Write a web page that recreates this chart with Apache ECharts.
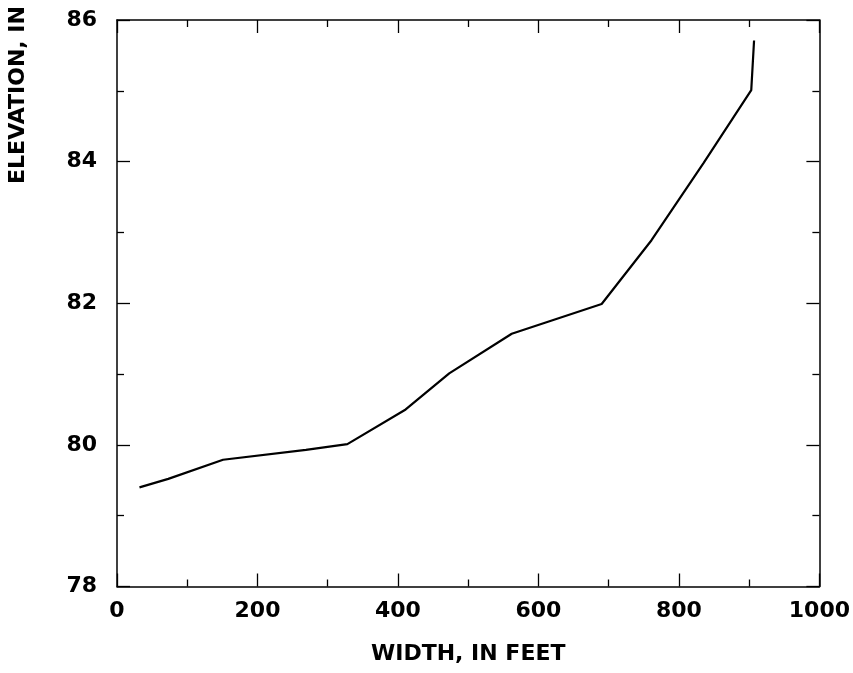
<!DOCTYPE html>
<html>
<head>
<meta charset="utf-8">
<script src="https://cdn.jsdelivr.net/npm/echarts@6/dist/echarts.min.js"></script>
<style>html,body{margin:0;padding:0;background:#fff}#c{width:853px;height:673px}</style>
</head>
<body>
<div id="c"></div>
<script>
const widthFeet = [32, 73, 151, 269, 328, 411, 473, 562, 690, 761, 835, 903, 907];
const elevation = [79.40, 79.52, 79.79, 79.93, 80.01, 80.50, 81.01, 81.57, 81.99, 82.89, 83.98, 85.01, 85.71];
const xTitle = 'WIDTH, IN FEET';
const yTitle = 'ELEVATION, IN';

const font = 'DejaVu Sans';
const chart = echarts.init(document.getElementById('c'), null, {renderer: 'canvas'});
const axisCommon = {
  axisLine: {show: true, onZero: false, lineStyle: {color: '#000', width: 1.5}},
  axisTick: {show: true, inside: true, length: 13, lineStyle: {color: '#000', width: 1.3}},
  minorTick: {show: true, splitNumber: 2, length: 7, lineStyle: {color: '#000', width: 1.3}},
  splitLine: {show: false}
};
chart.setOption({
  animation: false,
  backgroundColor: '#fff',
  grid: {left: 117, right: 31, top: 20, bottom: 86.5, containLabel: false},
  xAxis: [
    Object.assign({
      type: 'value', min: 0, max: 1000, interval: 200, position: 'bottom',
      name: xTitle, nameLocation: 'middle', nameGap: 57,
      nameTextStyle: {fontFamily: font, fontWeight: 'bold', fontSize: 22, color: '#000', verticalAlign: 'top'},
      axisLabel: {fontFamily: font, fontWeight: 'bold', fontSize: 22, color: '#000', margin: 14,
                  formatter: v => String(v)}
    }, axisCommon),
    Object.assign({
      type: 'value', min: 0, max: 1000, interval: 200, position: 'top',
      axisLabel: {show: false}
    }, axisCommon)
  ],
  yAxis: [
    Object.assign({
      type: 'value', min: 78, max: 86, interval: 2, position: 'left',
      axisLabel: {fontFamily: font, fontWeight: 'bold', fontSize: 22, color: '#000', margin: 20,
                  formatter: v => String(v)}
    }, axisCommon),
    Object.assign({
      type: 'value', min: 78, max: 86, interval: 2, position: 'right',
      axisLabel: {show: false}
    }, axisCommon)
  ],
  graphic: [{
    type: 'text', x: 18, y: 95, rotation: Math.PI / 2,
    style: {text: yTitle, fontFamily: font, fontWeight: 'bold', fontSize: 22, fill: '#000',
            textAlign: 'center', textVerticalAlign: 'middle'}
  }],
  series: [{
    type: 'line', xAxisIndex: 0, yAxisIndex: 0,
    data: widthFeet.map((x, i) => [x, elevation[i]]),
    showSymbol: false, symbol: 'none',
    lineStyle: {color: '#000', width: 2.2}
  }]
});
</script>
</body>
</html>
